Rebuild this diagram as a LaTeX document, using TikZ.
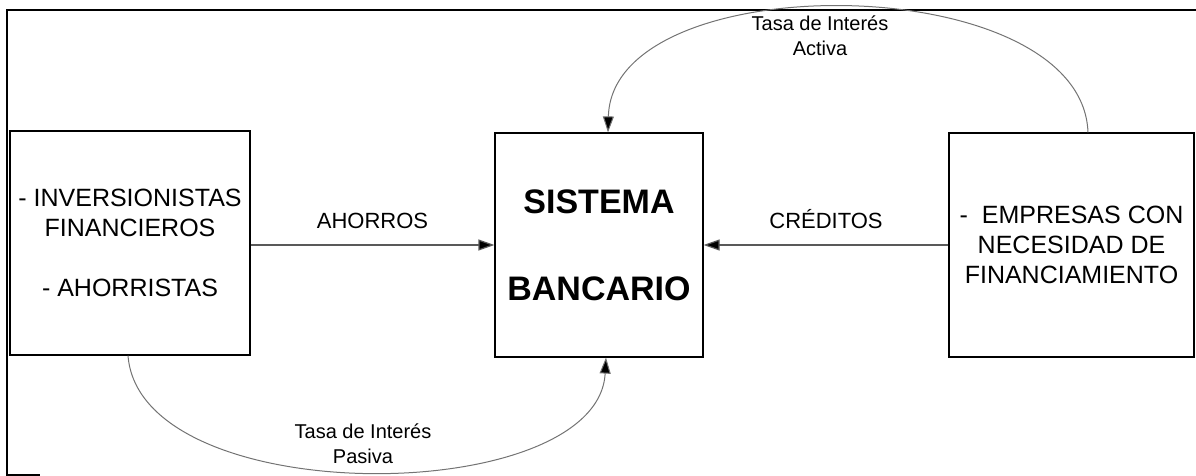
\documentclass[tikz,border=0pt]{standalone}
\usepackage{fontspec}
\setmainfont{Liberation Sans}
\usetikzlibrary{arrows.meta}
\tikzset{
  boxnode/.style={draw=black, line width=0.6pt, inner sep=0pt, minimum height=112pt, align=center, font=\fontsize{12.5}{15}\selectfont},
  labelnode/.style={inner sep=0pt, align=center, font=\fontsize{11}{12.5}\selectfont},
  curvelabel/.style={inner sep=0pt, align=center, font=\fontsize{10}{12.5}\selectfont},
  flow/.style={draw=black!65, line width=0.6pt, -{Triangle[length=8pt,width=5.5pt,fill=black]}},
  curveflow/.style={draw=black!55, line width=0.5pt, -{Triangle[length=8pt,width=5.5pt,fill=black]}},
  frame/.style={draw=black, line width=1pt}
}
\begin{document}
\begin{tikzpicture}[x=0.5pt,y=-0.5pt]
\useasboundingbox (0,0) rectangle (1196,476);
% partial outer frame
\coordinate (ftr) at (1196,10);
\coordinate (ftl) at (7,10);
\coordinate (fbl) at (7,475);
\coordinate (fbr) at (40,475);
\draw[frame] (ftr) -- (ftl) -- (fbl) -- (fbr);

\node[boxnode, minimum width=120pt] (left) at (130,243)
  {- INVERSIONISTAS\\FINANCIEROS\\[15pt]- AHORRISTAS};
\node[boxnode, minimum width=104pt, font=\fontsize{17}{20}\bfseries\selectfont] (bank) at (599,245)
  {SISTEMA\\[23.5pt]BANCARIO};
\node[boxnode, minimum width=122.5pt] (firm) at (1071.5,245)
  {-\ \ EMPRESAS CON\\NECESIDAD DE\\FINANCIAMIENTO};

% straight flows
\draw[flow] (left.east |- bank.west) -- node[labelnode, above=8pt] {AHORROS} (bank.west);
\draw[flow] (firm.west) -- node[labelnode, above=8pt] {CRÉDITOS} (bank.east);

% curved flows
\draw[curveflow] ([xshift=8.25pt]firm.north) .. controls (1082,-32) and (612,-36) .. ([xshift=4.5pt]bank.north);
\draw[curveflow] ([xshift=-1pt]left.south) .. controls (140,512) and (598,508) .. ([xshift=3.5pt]bank.south);

\node[curvelabel] (activa) at (820,36) {Tasa de Interés\\Activa};
\node[curvelabel] (pasiva) at (363,444) {Tasa de Interés\\Pasiva};
\end{tikzpicture}
\end{document}
